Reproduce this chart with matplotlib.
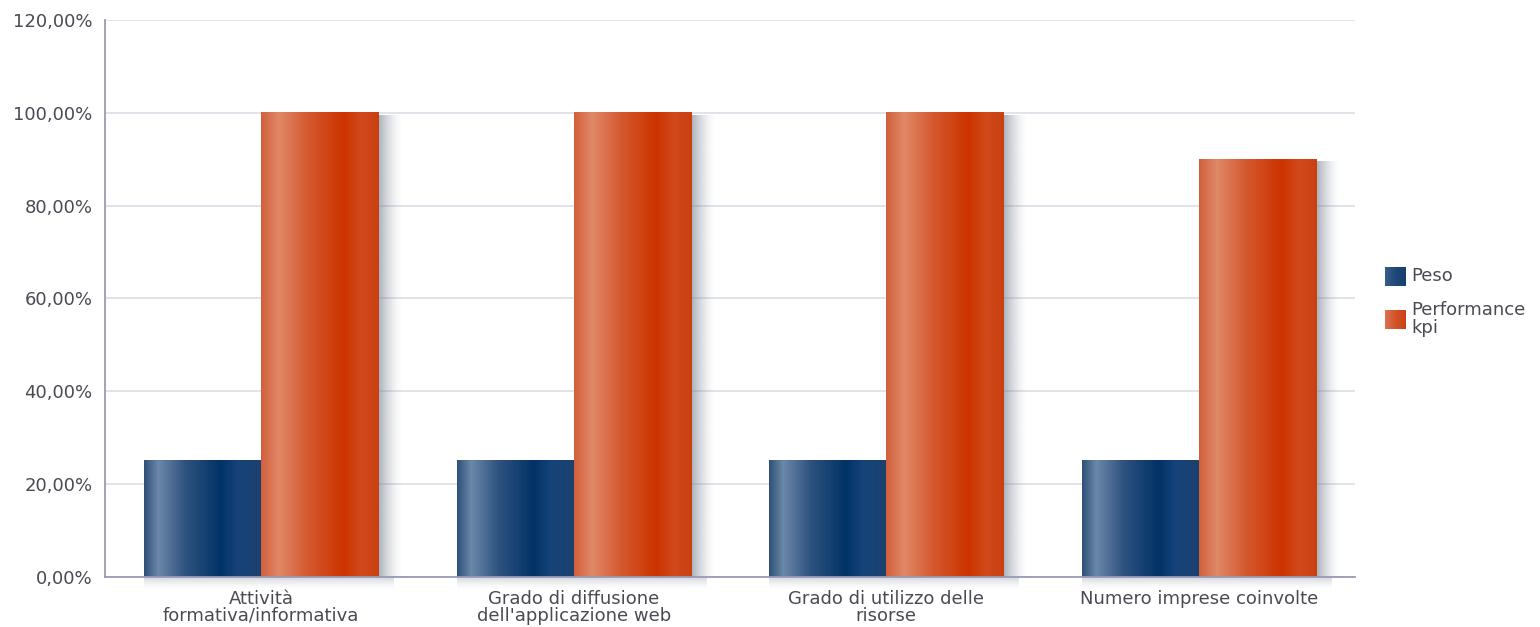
import matplotlib.pyplot as plt
import numpy as np
from matplotlib.colors import LinearSegmentedColormap, to_rgb

plt.rcParams['font.family'] = ['DejaVu Sans']

# --- Data ---------------------------------------------------------------------
categories = ['Attività\nformativa/informativa',
              'Grado di diffusione\ndell\'applicazione web',
              'Grado di utilizzo delle\nrisorse',
              'Numero imprese coinvolte']
peso = [25, 25, 25, 25]
performance = [100, 100, 100, 90]
series_names = ['Peso', 'Performance\nkpi']
yticks = [0, 20, 40, 60, 80, 100, 120]

# --- Styling ------------------------------------------------------------------
blue_stops = [(0.0, '#2e5078'), (0.12, '#6b88a8'), (0.35, '#2f5280'),
              (0.65, '#013366'), (0.8, '#16437a'), (1.0, '#1b416e')]
orange_stops = [(0.0, '#d2603c'), (0.15, '#e08868'), (0.4, '#d4592e'),
                (0.7, '#cc3300'), (0.85, '#d24a1c'), (1.0, '#c94013')]
blue_cmap = LinearSegmentedColormap.from_list('blue', blue_stops)
orange_cmap = LinearSegmentedColormap.from_list('orange', orange_stops)
blue_swatch = LinearSegmentedColormap.from_list('bs', ['#3c5f88', '#1d4878', '#14406e'])
orange_swatch = LinearSegmentedColormap.from_list('os', ['#dc7550', '#d4532a', '#cc4014'])

text_color = '#4a4a55'
grid_color = '#dddde8'
axis_color = '#9a9ab8'
shadow_rgb = to_rgb('#6e7888')

fig = plt.figure(figsize=(15.4, 6.27), dpi=100)
ax = fig.add_axes([105 / 1540, 1 - 577 / 627, 1250 / 1540, 557 / 627])

x = np.arange(len(categories))
width = 0.375
grad = np.linspace(0, 1, 256).reshape(1, -1)


def shadow_image(alpha, vertical=False):
    n = len(alpha)
    shape = (n, 1, 4) if vertical else (1, n, 4)
    rgba = np.zeros(shape)
    rgba[..., :3] = shadow_rgb
    rgba[..., 3] = alpha.reshape(shape[:2])
    return rgba


for i in x:
    # right-side shadow of the pair
    ax.imshow(shadow_image(0.6 * (1 - np.linspace(0, 1, 64)) ** 1.6),
              extent=[i + width, i + width + 0.08, 0, performance[i] - 0.5],
              aspect='auto', interpolation='bilinear', zorder=1.5)
    # soft shadow under the axis line
    ax.imshow(shadow_image(0.3 * (1 - np.linspace(0, 1, 32)) ** 1.6, vertical=True),
              extent=[i - width, i + width + 0.05, -2.8, 0],
              aspect='auto', interpolation='bilinear', zorder=1.5,
              clip_on=False)
    ax.imshow(grad, extent=[i - width, i, 0, peso[i]], aspect='auto',
              cmap=blue_cmap, interpolation='bilinear', zorder=2)
    ax.imshow(grad, extent=[i, i + width, 0, performance[i]], aspect='auto',
              cmap=orange_cmap, interpolation='bilinear', zorder=2)

ax.set_xlim(-0.5, len(categories) - 0.5)
ax.set_ylim(0, 120)
ax.set_yticks(yticks)
ax.set_yticklabels([f'{v},00%' for v in yticks], color=text_color, fontsize=13)
ax.set_xticks(x)
ax.set_xticklabels(categories, color=text_color, fontsize=13, linespacing=0.95)
ax.tick_params(axis='both', length=0)
ax.tick_params(axis='y', pad=9)
ax.tick_params(axis='x', pad=9)

ax.grid(axis='y', color=grid_color, linewidth=1.2, zorder=0)
ax.set_axisbelow(True)
for side in ['top', 'right']:
    ax.spines[side].set_visible(False)
for side in ['left', 'bottom']:
    ax.spines[side].set_color(axis_color)
    ax.spines[side].set_linewidth(1.3)
    ax.spines[side].set_zorder(3)

# --- Legend (gradient swatches, text centred on each swatch) ------------------
legend_items = [(series_names[0], blue_swatch, 267),
                (series_names[1], orange_swatch, 310)]
for name, cmap, top in legend_items:
    sw = fig.add_axes([1385 / 1540, 1 - (top + 19) / 627, 21 / 1540, 19 / 627])
    sw.imshow(grad, aspect='auto', cmap=cmap, interpolation='bilinear')
    sw.axis('off')
    fig.text(1411 / 1540, 1 - (top + 9) / 627, name, color=text_color,
             fontsize=13, va='center', ha='left', linespacing=1.02)

fig.savefig('out.png', dpi=100, facecolor='white')
